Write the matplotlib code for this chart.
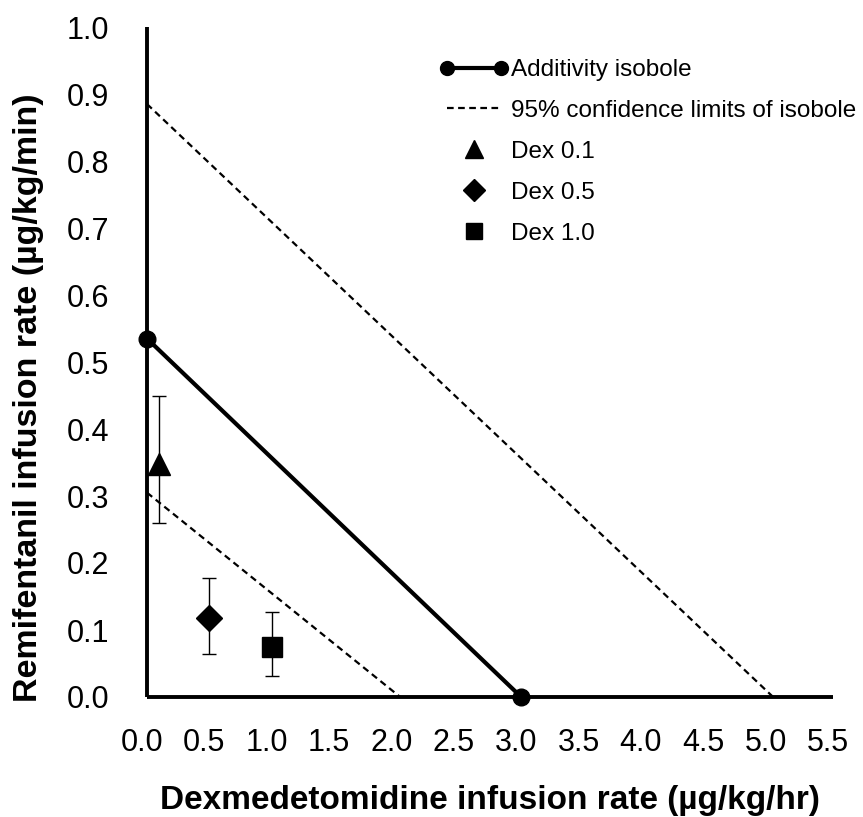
import matplotlib
matplotlib.use("Agg")
import matplotlib.pyplot as plt
from matplotlib.lines import Line2D
from matplotlib.legend_handler import HandlerLine2D
from matplotlib.transforms import ScaledTranslation
from matplotlib import font_manager

# ---- data ----
isobole_x = [0.0, 3.0]
isobole_y = [0.535, 0.0]
upper_ci_x = [0.0, 5.02]
upper_ci_y = [0.885, 0.0]
lower_ci_x = [0.0, 2.03]
lower_ci_y = [0.305, 0.0]

groups = ["Dex 0.1", "Dex 0.5", "Dex 1.0"]
dex_x = [0.1, 0.5, 1.0]
remi_y = [0.348, 0.118, 0.075]
err_low = [0.26, 0.064, 0.031]
err_high = [0.45, 0.178, 0.127]
markers = ["^", "D", "s"]

xticks = [0.0, 0.5, 1.0, 1.5, 2.0, 2.5, 3.0, 3.5, 4.0, 4.5, 5.0, 5.5]
yticks = [0.0, 0.1, 0.2, 0.3, 0.4, 0.5, 0.6, 0.7, 0.8, 0.9, 1.0]

names = {f.name for f in font_manager.fontManager.ttflist}
base = "Liberation Sans" if "Liberation Sans" in names else "DejaVu Sans"
plt.rcParams["font.family"] = [base, "DejaVu Sans"]

fig = plt.figure(figsize=(8.63, 8.17), dpi=100)
ax = fig.add_axes([147/863, 1-697/817, (833-147)/863, (697-27)/817])

ax.plot(upper_ci_x, upper_ci_y, color="black", lw=1.6, ls=(0, (3, 2)))
ax.plot(lower_ci_x, lower_ci_y, color="black", lw=1.6, ls=(0, (3, 2)))
ax.plot(isobole_x, isobole_y, color="black", lw=3, marker="o", ms=12,
        clip_on=False, zorder=5)

msizes = [16, 13, 14.5]
for x, y, lo, hi, m, ms in zip(dex_x, remi_y, err_low, err_high, markers, msizes):
    ax.errorbar([x], [y], yerr=[[y - lo], [hi - y]], fmt=m, color="black",
                ms=ms, ecolor="black", elinewidth=1, capsize=5, capthick=1,
                zorder=4)

ax.set_xlim(0, 5.5)
ax.set_ylim(0, 1.0)
ax.set_xticks(xticks)
ax.set_yticks(yticks)
ax.set_xticklabels([f"{v:.1f}" for v in xticks])
ax.set_yticklabels([f"{v:.1f}" for v in yticks])
ax.tick_params(axis="both", length=0, labelsize=22)
ax.tick_params(axis="x", pad=22)
ax.tick_params(axis="y", pad=27)
for lab in ax.get_xticklabels():
    lab.set_transform(lab.get_transform() + ScaledTranslation(-5/100, 0, fig.dpi_scale_trans))

for s in ["top", "right"]:
    ax.spines[s].set_visible(False)
for s in ["left", "bottom"]:
    ax.spines[s].set_linewidth(2.8)
    ax.spines[s].set_capstyle("butt")

fig.text(490/863, 1-800/817, "Dexmedetomidine infusion rate (µg/kg/hr)",
         ha="center", va="center", fontsize=24, fontweight="bold")
fig.text(29/863, 1-398/817, "Remifentanil infusion rate (µg/kg/min)",
         ha="center", va="center", rotation=90, fontsize=24.5, fontweight="bold")

# legend
h_iso = Line2D([], [], color="black", lw=3, marker="o", ms=10)
h_ci = Line2D([], [], color="black", lw=1.6, ls=(0, (3, 2)))
h_pts = [Line2D([], [], color="black", ls="none", marker=m, ms=s)
         for m, s in zip(markers, [13, 11, 12])]
handles = [h_iso, h_ci] + h_pts
labels = ["Additivity isobole", "95% confidence limits of isobole"] + groups
hmap = {h: HandlerLine2D(numpoints=1) for h in h_pts}
leg = ax.legend(handles, labels, loc="upper left",
                bbox_to_anchor=(440/863, 1-59/817), bbox_transform=fig.transFigure,
                frameon=False, numpoints=2, handlelength=2.8, handletextpad=0.12,
                labelspacing=0.78, borderaxespad=0, borderpad=0,
                prop={"size": 17.5}, handler_map=hmap)

fig.savefig("out.png", dpi=100)
